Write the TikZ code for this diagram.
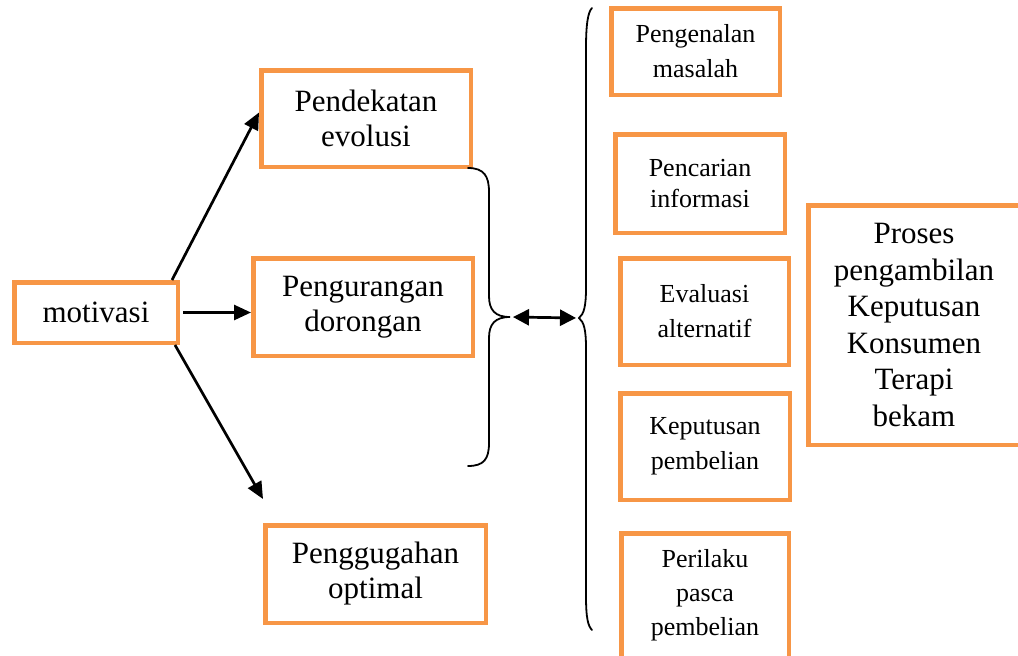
\documentclass[tikz,border=0pt]{standalone}
\usepackage{fontspec}
\setmainfont{Liberation Serif}
\usepackage{xcolor}
\definecolor{boxOrange}{HTML}{F79646}
\definecolor{lineDark}{HTML}{000000}
\usepackage{tikz}
\usetikzlibrary{arrows.meta,positioning,calc}
\tikzset{
    bigbox/.style={
        draw=boxOrange,
        fill=white,
        rectangle,
        line width=4.5pt,
        align=center,
        inner sep=0pt,
        font=\fontsize{31}{35}\selectfont
    },
    stagebox/.style={
        bigbox,
        font=\fontsize{26}{35}\selectfont
    },
    arrow/.style={
        -{Triangle[length=17pt,width=15pt]},
        line width=2.7pt,
        color=lineDark
    },
    dblarrow/.style={
        {Triangle[length=16pt,width=16pt]}-{Triangle[length=16pt,width=16pt]},
        line width=2.7pt,
        color=lineDark
    },
    bracket/.style={
        line width=1.8pt,
        line cap=round,
        color=lineDark
    }
}
\begin{document}
\begin{tikzpicture}[x=1pt,y=-1pt]
    \useasboundingbox (0,0) rectangle (1018,656);

    % Motivasi
    \node[bigbox, minimum width=163.5pt, minimum height=60.5pt] (motivasi) at (96,312.5) {motivasi};

    % Three approaches
    \node[bigbox, minimum width=209.5pt, minimum height=96.5pt] (evolusi) at (366,118.5) {Pendekatan\\evolusi};
    \node[bigbox, minimum width=219.5pt, minimum height=97.5pt] (dorongan) at (363,307) {Pengurangan\\dorongan};
    \node[bigbox, minimum width=220.5pt, minimum height=97.5pt] (optimal) at (375.5,574) {Penggugahan\\optimal};

    % Decision stages
    \node[stagebox, minimum width=168.5pt, minimum height=86.5pt] (masalah) at (695.5,51.5) {Pengenalan\\masalah};
    \node[stagebox, minimum width=169.5pt, minimum height=98.5pt, font=\fontsize{26}{31}\selectfont] (informasi) at (700,183.5) {Pencarian\\informasi};
    \node[stagebox, minimum width=168.5pt, minimum height=106.5pt] (alternatif) at (704.5,311.5) {Evaluasi\\alternatif};
    \node[stagebox, minimum width=169.5pt, minimum height=106.5pt] (pembelian) at (705,446.5) {Keputusan\\pembelian};
    \node[stagebox, minimum width=167.5pt, minimum height=124.5pt, font=\fontsize{26}{34}\selectfont] (pasca) at (705,595.5) {Perilaku\\pasca\\pembelian};

    % Process box
    \node[bigbox, minimum width=211.5pt, minimum height=239.5pt, font=\fontsize{31}{36.6}\selectfont] (proses) at (914,325) {Proses\\pengambilan\\Keputusan\\Konsumen\\Terapi\\bekam};

    % Braces
    \draw[bracket] (468,168) .. controls (484,168) and (489,176) .. (489,192)
        -- (489,296) .. controls (489,310) and (495,317) .. (510,317)
        .. controls (495,317) and (489,324) .. (489,338)
        -- (489,443) .. controls (489,459) and (484,466) .. (468,466);
    \draw[bracket] (592,8) .. controls (588,12) and (586,24) .. (586,48)
        -- (586,288) .. controls (586,306) and (584,314) .. (579,318)
        .. controls (584,322) and (586,330) .. (586,348)
        -- (586,596) .. controls (586,618) and (588,626) .. (592,630);
    \coordinate (lefttip) at (510,317);
    \coordinate (righttip) at (579,318);

    % Arrows
    \draw[arrow] ([xshift=-8pt]motivasi.north east) -- ([yshift=6pt]evolusi.west);
    \draw[arrow] ([xshift=3pt]motivasi.east) -- (dorongan.west |- motivasi.east);
    \draw[arrow] ([xshift=-5pt]motivasi.south east) -- ([yshift=24pt]optimal.north west);
    \draw[dblarrow, shorten <=3pt, shorten >=3pt] (lefttip) -- (righttip);
\end{tikzpicture}
\end{document}
